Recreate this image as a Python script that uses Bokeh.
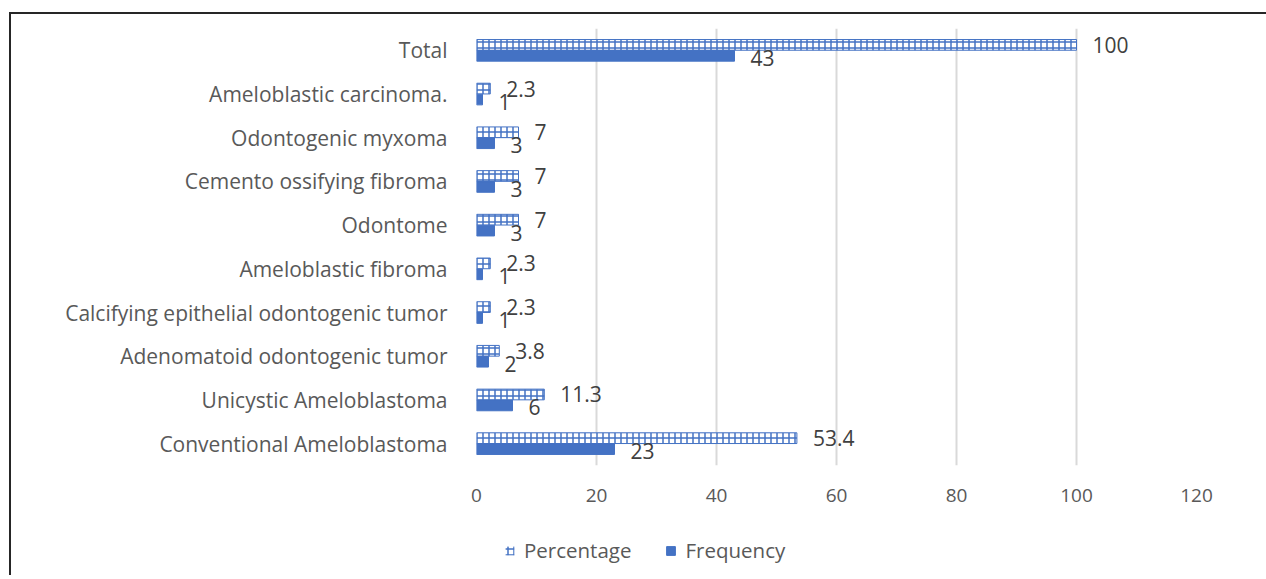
from bokeh.plotting import figure
from bokeh.layouts import column
from bokeh.models import (ColumnDataSource, FactorRange, Range1d, FixedTicker,
                          Legend, LegendItem)
from bokeh.transform import dodge
from bokeh.core.properties import value
from bokeh.embed import file_html
from bokeh.resources import INLINE

categories = ["Conventional Ameloblastoma", "Unicystic Ameloblastoma",
              "Adenomatoid odontogenic tumor", "Calcifying epithelial odontogenic tumor",
              "Ameloblastic fibroma", "Odontome", "Cemento ossifying fibroma",
              "Odontogenic myxoma", "Ameloblastic carcinoma.", "Total"]
percentage = [53.4, 11.3, 3.8, 2.3, 2.3, 7, 7, 7, 2.3, 100]
frequency = [23, 6, 2, 1, 1, 3, 3, 3, 1, 43]
pct_labels = ["53.4", "11.3", "3.8", "2.3", "2.3", "7", "7", "7", "2.3", "100"]
freq_labels = ["23", "6", "2", "1", "1", "3", "3", "3", "1", "43"]
x_ticks = [0, 20, 40, 60, 80, 100, 120]

BLUE = "#4472C4"
FONT = "Open Sans"

src = ColumnDataSource(dict(cat=categories, pct=percentage, freq=frequency,
                            pl=pct_labels, fl=freq_labels))

W = 1255
p = figure(width=W, height=501, output_backend="svg", toolbar_location=None,
           y_range=FactorRange(*categories), x_range=Range1d(0, 120),
           min_border_left=465, min_border_right=70, min_border_top=14,
           min_border_bottom=50)
p.outline_line_color = None

freq_style = dict(fill_color=BLUE, line_color=BLUE)
pct_style = dict(fill_color="white", line_color=BLUE, line_width=1,
                 hatch_color=BLUE, hatch_scale=6, hatch_weight=1.5,
                 hatch_pattern="cross")

r_pct = p.hbar(y=dodge("cat", 0.125, range=p.y_range), right="pct", height=0.245,
               source=src, **pct_style)
r_freq = p.hbar(y=dodge("cat", -0.125, range=p.y_range), right="freq", height=0.245,
                source=src, **freq_style)

p.text(x="pct", y=dodge("cat", 0.125, range=p.y_range), text="pl", source=src,
       x_offset=16, y_offset=0, text_align="left", text_baseline="middle",
       text_font=value(FONT), text_font_size="21px", text_color="#404040")
p.text(x="freq", y=dodge("cat", -0.125, range=p.y_range), text="fl", source=src,
       x_offset=16, y_offset=2, text_align="left", text_baseline="middle",
       text_font=value(FONT), text_font_size="21px", text_color="#404040")

p.xaxis.ticker = FixedTicker(ticks=x_ticks)
p.xaxis.axis_line_color = None
p.xaxis.major_tick_line_color = None
p.xaxis.minor_tick_line_color = None
p.xaxis.major_tick_out = 0
p.xaxis.major_label_standoff = 23
p.xaxis.major_label_text_font = FONT
p.xaxis.major_label_text_font_size = "19px"
p.xaxis.major_label_text_color = "#595959"

p.yaxis.axis_line_color = None
p.yaxis.major_tick_line_color = None
p.yaxis.major_tick_out = 0
p.yaxis.major_label_standoff = 29
p.yaxis.major_label_text_font = FONT
p.yaxis.major_label_text_font_size = "21px"
p.yaxis.major_label_text_color = "#595959"

p.xgrid.grid_line_color = "#d9d9d9"
p.xgrid.grid_line_width = 2
p.ygrid.grid_line_color = None

# legend strip beneath the plot (frame is aligned with the main plot's frame);
# its renderers use the same data but sit outside the visible y range
lf = figure(width=W, height=60, output_backend="svg", toolbar_location=None,
            x_axis_type=None, y_axis_type=None, x_range=Range1d(0, 120),
            y_range=Range1d(0, 1), min_border=0)
lf.outline_line_color = None
lf.grid.grid_line_color = None
lp = lf.hbar(y=-5, right="pct", height=0.5, source=src,
             **dict(pct_style, line_color=None))
lq = lf.hbar(y=-5, right="freq", height=0.5, source=src, **freq_style)
legend = Legend(items=[LegendItem(label="Percentage", renderers=[lp], index=0),
                       LegendItem(label="Frequency", renderers=[lq], index=0)],
                orientation="horizontal", location=(28, 11),
                label_text_font=FONT, label_text_font_size="20.5px",
                label_text_color="#595959", glyph_width=11, glyph_height=11,
                spacing=34, label_standoff=9, padding=5, border_line_color=None,
                background_fill_alpha=0)
lf.add_layout(legend)

layout = column(p, lf, spacing=0, margin=(12, 0, 0, 9),
                styles={"border-top": "2px solid #262626", "border-left": "2px solid #262626"})

open("out.html", "w").write(file_html(layout, INLINE))
